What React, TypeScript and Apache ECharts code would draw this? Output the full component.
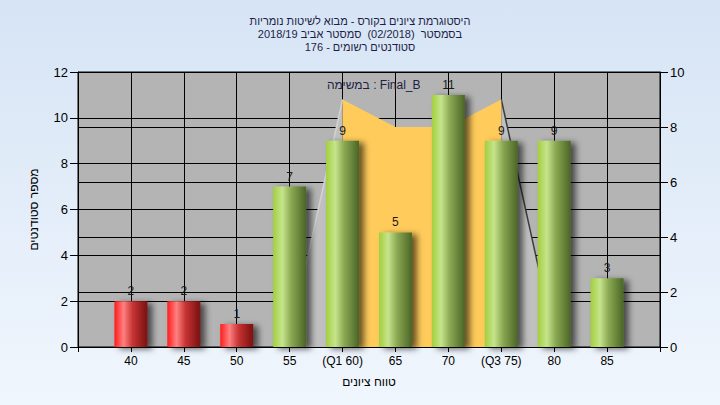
import React, { useEffect, useRef } from "react";
import * as echarts from "echarts";

const titleLines = [
  "היסטוגרמת ציונים בקורס - מבוא לשיטות נומריות",
  "בסמסטר  (02/2018)  סמסטר אביב 2018/19",
  "סטודנטים רשומים - 176",
];
const categories = ["", "40", "45", "50", "55", "(Q1 60)", "65", "70", "(Q3 75)", "80", "85", ""];
const counts: (number | string)[] = ["-", 2, 2, 1, 7, 9, 5, 11, 9, 9, 3, "-"];
const failing = [false, true, true, true, false, false, false, false, false, false, false, false];
const curveLeft: (number | string)[] = ["-", "-", "-", "-", 0.3, 9, "-", "-", "-", "-", "-", "-"];
const curveMid: (number | string)[] = ["-", "-", "-", "-", "-", 9, 8, 8, 9, "-", "-", "-"];
const curveRight: (number | string)[] = ["-", "-", "-", "-", "-", "-", "-", "-", 9, 0.3, "-", "-"];
const leftTicks = { min: 0, max: 12, interval: 2 };
const rightTicks = { min: 0, max: 10, interval: 2 };
const yName = "מספר סטודנטים";
const xName = "טווח ציונים";
const taskLabel = "במשימה : Final_B";

const FONT = "'Liberation Sans', 'DejaVu Sans', Arial, sans-serif";

export default function App() {
  const ref = useRef<HTMLDivElement>(null);
  useEffect(() => {
    if (!ref.current) return;
    const chart = echarts.init(ref.current, null, { renderer: "svg" });
    const green = new echarts.graphic.LinearGradient(0, 0, 1, 0, [
      { offset: 0, color: "#a2cf3e" },
      { offset: 0.28, color: "#c6e48c" },
      { offset: 0.55, color: "#8aa852" },
      { offset: 1, color: "#4a6526" },
    ]);
    const red = new echarts.graphic.LinearGradient(0, 0, 1, 0, [
      { offset: 0, color: "#ff1c1c" },
      { offset: 0.28, color: "#ff8080" },
      { offset: 0.55, color: "#c83434" },
      { offset: 1, color: "#781010" },
    ]);
    const barData = counts.map((v, i) => ({
      value: v,
      itemStyle: { color: failing[i] ? red : green },
    }));
    const axisLabelStyle = { color: "#000", fontFamily: FONT };
    chart.setOption({
      animation: false,
      backgroundColor: new echarts.graphic.LinearGradient(0, 0, 0, 1, [
        { offset: 0, color: "#d6e4f5" },
        { offset: 1, color: "#f0f6fd" },
      ]),
      textStyle: { fontFamily: FONT },
      title: {
        text: titleLines.join("\n"),
        left: "center",
        top: 9,
        textStyle: {
          fontSize: 11,
          lineHeight: 13,
          fontWeight: "normal",
          color: "#1e1e46",
          fontFamily: FONT,
        },
      },
      grid: {
        left: 78,
        right: 60,
        top: 72,
        bottom: 58,
        show: true,
        backgroundColor: "#b4b4b4",
        borderColor: "#000",
        borderWidth: 1,
      },
      xAxis: {
        type: "category",
        data: categories,
        boundaryGap: false,
        name: xName,
        nameLocation: "middle",
        nameGap: 29,
        nameTextStyle: { fontSize: 12, color: "#000", fontFamily: FONT },
        axisLine: { show: true, lineStyle: { color: "#000", width: 1 } },
        axisTick: { show: true, length: 5, interval: 0, lineStyle: { color: "#000" } },
        axisLabel: { ...axisLabelStyle, fontSize: 12, interval: 0, margin: 8 },
        splitLine: { show: true, interval: 0, lineStyle: { color: "#000", width: 1 } },
      },
      yAxis: [
        {
          type: "value",
          ...leftTicks,
          position: "left",
          name: yName,
          nameLocation: "middle",
          nameGap: 38,
          nameTextStyle: { fontSize: 12, color: "#000", fontFamily: FONT },
          axisLine: { show: true, lineStyle: { color: "#000", width: 1 } },
          axisTick: { show: true, length: 8, lineStyle: { color: "#000" } },
          axisLabel: { ...axisLabelStyle, fontSize: 13, margin: 10 },
          splitLine: { show: true, lineStyle: { color: "#000", width: 1 } },
        },
        {
          type: "value",
          ...rightTicks,
          position: "right",
          axisLine: { show: true, lineStyle: { color: "#000", width: 1 } },
          axisTick: { show: true, length: 8, lineStyle: { color: "#000" } },
          axisLabel: { ...axisLabelStyle, fontSize: 13, margin: 10 },
          splitLine: { show: true, lineStyle: { color: "#000", width: 1 } },
        },
      ],
      series: [
        {
          type: "line",
          yAxisIndex: 1,
          data: curveLeft,
          symbol: "none",
          z: 1,
          lineStyle: { color: "#d2d2d2", width: 1.5 },
          areaStyle: { color: "#c0c0c0", opacity: 1 },
        },
        {
          type: "line",
          yAxisIndex: 1,
          data: curveRight,
          symbol: "none",
          z: 1,
          lineStyle: { color: "#3c3c3c", width: 1.5 },
          areaStyle: { color: "#c0c0c0", opacity: 1 },
        },
        {
          type: "line",
          yAxisIndex: 1,
          data: curveMid,
          symbol: "none",
          z: 2,
          lineStyle: { width: 0, color: "#ffcb5b" },
          areaStyle: { color: "#ffcb5b", opacity: 1 },
        },
        {
          type: "bar",
          yAxisIndex: 0,
          data: barData,
          barWidth: 33,
          z: 3,
          itemStyle: {
            shadowColor: "rgba(0,0,0,0.6)",
            shadowBlur: 6,
            shadowOffsetX: 5,
            shadowOffsetY: 2,
          },
          label: {
            show: true,
            position: "top",
            distance: 4,
            fontSize: 12,
            color: "#1a1a1a",
            fontFamily: FONT,
          },
        },
      ],
      graphic: [
        {
          type: "text",
          left: 327,
          top: 79,
          z: 10,
          style: {
            text: taskLabel,
            fontSize: 12,
            fill: "#1e1e46",
            fontFamily: FONT,
          },
        },
      ],
    });
    return () => chart.dispose();
  }, []);
  return (
    <div
      ref={ref}
      style={{ position: "fixed", left: 0, top: 0, width: 720, height: 405 }}
    />
  );
}
